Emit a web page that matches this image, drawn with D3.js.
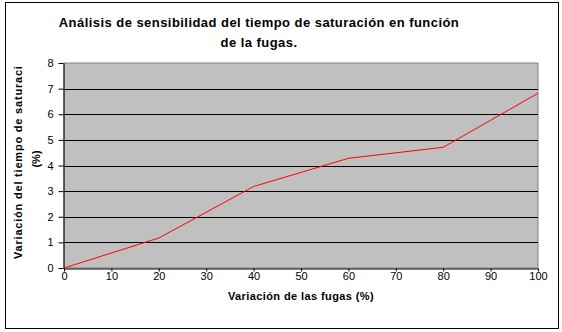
<!DOCTYPE html>
<html lang="es">
<head>
<meta charset="UTF-8">
<title>Análisis de sensibilidad</title>
<script src="https://d3js.org/d3.v7.min.js"></script>
<style>
    body { margin: 0; background: #fff; }
    svg { display: block; font-family: Arial, "Liberation Sans", sans-serif; }
</style>
</head>
<body>
<svg width="562" height="332"></svg>
<script>
    // data
    const fugas = [0, 20, 40, 60, 80, 100];
    const tiempo = [0, 1.17, 3.18, 4.28, 4.71, 6.82];
    const xTicks = [0, 10, 20, 30, 40, 50, 60, 70, 80, 90, 100];
    const yTicks = [0, 1, 2, 3, 4, 5, 6, 7, 8];

    const svg = d3.select("svg");
    const plot = { left: 64, right: 538, top: 63, bottom: 268 };

    const x = d3.scaleLinear().domain([0, 100]).range([plot.left, plot.right]);
    const y = d3.scaleLinear().domain([0, 8]).range([plot.bottom, plot.top]);

    // outer frame
    svg.append("rect")
        .attr("x", 5.5).attr("y", 2.5)
        .attr("width", 553).attr("height", 326)
        .attr("fill", "#fff").attr("stroke", "#000");

    // plot background
    svg.append("rect")
        .attr("x", plot.left).attr("y", plot.top)
        .attr("width", plot.right - plot.left).attr("height", plot.bottom - plot.top)
        .attr("fill", "#c0c0c0")
        .attr("stroke", "#808080");

    // gridlines
    svg.append("g")
        .selectAll("line")
        .data(yTicks.slice(1, -1))
        .join("line")
        .attr("x1", plot.left).attr("x2", plot.right)
        .attr("y1", d => Math.round(y(d)) + 0.5)
        .attr("y2", d => Math.round(y(d)) + 0.5)
        .attr("stroke", "#000");

    // axes
    const xAxis = svg.append("g")
        .attr("transform", `translate(0,${plot.bottom + 0.5})`)
        .call(d3.axisBottom(x).tickValues(xTicks).tickSize(3).tickPadding(1).tickSizeOuter(0));
    const yAxis = svg.append("g")
        .attr("transform", `translate(${plot.left - 0.5},0)`)
        .call(d3.axisLeft(y).tickValues(yTicks).tickSize(5).tickPadding(5).tickSizeOuter(0));

    [xAxis, yAxis].forEach(g => {
        g.select(".domain").attr("stroke", "#000");
        g.selectAll(".tick line").attr("stroke", "#000");
        g.selectAll(".tick text")
            .attr("fill", "#000")
            .style("font-size", "11px")
            .style("font-family", "Arial, 'Liberation Sans', sans-serif");
    });

    // series line
    const line = d3.line()
        .x((d, i) => x(fugas[i]))
        .y(d => y(d));

    svg.append("path")
        .datum(tiempo)
        .attr("d", line)
        .attr("fill", "none")
        .attr("stroke", "#ff0000")
        .attr("stroke-width", 1);

    // title
    const title = svg.append("text")
        .attr("text-anchor", "middle")
        .style("font-size", "13px")
        .style("font-weight", "bold")
        .style("letter-spacing", "0.45px");
    title.append("tspan").attr("x", 259).attr("y", 27).text("Análisis de sensibilidad del tiempo de saturación en función");
    title.append("tspan").attr("x", 259).attr("y", 47).text("de la fugas.");

    // x axis title
    svg.append("text")
        .attr("x", 301).attr("y", 300)
        .attr("text-anchor", "middle")
        .style("font-size", "11px")
        .style("font-weight", "bold")
        .style("letter-spacing", "0.4px")
        .text("Variación de las fugas (%)");

    // y axis title, cut off at the top like the original
    svg.append("clipPath").attr("id", "ylab")
        .append("rect").attr("x", 0).attr("y", 67).attr("width", 60).attr("height", 220);

    const ylab = svg.append("g").attr("clip-path", "url(#ylab)");
    ylab.append("text")
        .attr("transform", "translate(22,259) rotate(-90)")
        .attr("text-anchor", "start")
        .style("font-size", "11px")
        .style("font-weight", "bold")
        .style("letter-spacing", "0.8px")
        .text("Variación del tiempo de saturación");
    ylab.append("text")
        .attr("transform", "translate(40,159) rotate(-90)")
        .attr("text-anchor", "middle")
        .style("font-size", "11px")
        .style("font-weight", "bold")
        .text("(%)");
</script>
</body>
</html>
